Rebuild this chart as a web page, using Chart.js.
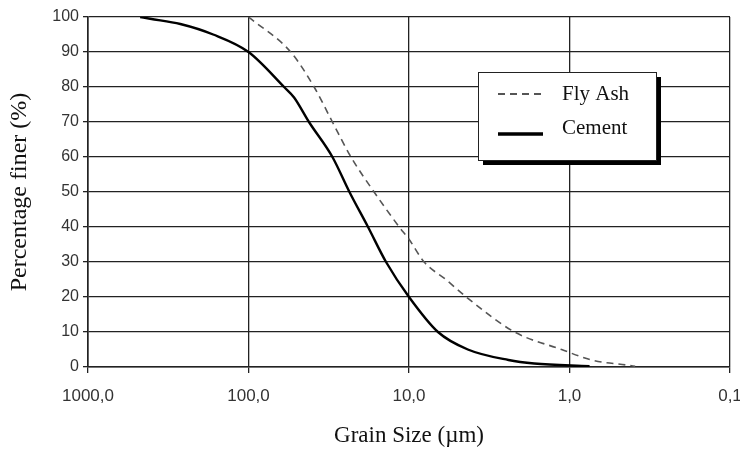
<!DOCTYPE html>
<html>
<head>
<meta charset="utf-8">
<script src="https://cdn.jsdelivr.net/npm/chart.js@4/dist/chart.umd.min.js"></script>
<style>
  html, body { margin: 0; padding: 0; background: #fff; }
  #wrap { width: 740px; height: 450px; }
</style>
</head>
<body>
<div id="wrap"><canvas id="psd"></canvas></div>
<script>
// grain size distribution
var cementSize  = [473, 410, 266, 166, 100, 60, 52, 42, 30, 23.5, 18, 13.9, 10, 6.6, 4.3, 2.4, 1.66, 0.75];
var cementFiner = [100, 99.5, 98, 95, 90, 80, 77, 70, 60, 50, 40, 30, 20, 10, 5, 2, 1, 0.2];
var flyAshSize  = [100, 54.6, 39, 30, 23, 16.5, 11.5, 10, 8.05, 5.9, 4.4, 2.2, 1.12, 0.73, 0.43, 0.39];
var flyAshFiner = [100, 90, 80, 70, 60, 50, 40, 36.5, 30, 25, 20, 10, 5, 2, 0.5, 0.2];
var xTicks = [0.1, 1, 10, 100, 1000];
var yTicks = [0, 10, 20, 30, 40, 50, 60, 70, 80, 90, 100];

function toPoints(xs, ys) {
  return xs.map(function (x, i) { return { x: x, y: ys[i] }; });
}

/** legend box drawn inside the plot, with the hard shadow from the original */
var boxLegend = {
  id: 'boxLegend',
  afterDraw: function (chart) {
    var ctx = chart.ctx;
    var x = 478, y = 72, w = 178, h = 88;
    ctx.save();
    ctx.fillStyle = '#000';
    ctx.fillRect(x + 5, y + 5, w, h);
    ctx.fillStyle = '#fff';
    ctx.fillRect(x, y, w, h);
    ctx.strokeStyle = '#222';
    ctx.lineWidth = 1;
    ctx.strokeRect(x + 0.5, y + 0.5, w, h);
    var rows = [22, 62];
    chart.data.datasets.forEach(function (ds, i) {
      var ly = y + rows[i];
      ctx.beginPath();
      ctx.strokeStyle = ds.borderColor;
      ctx.lineWidth = i === 0 ? 2 : 3.5;
      ctx.setLineDash(ds.borderDash || []);
      ctx.moveTo(x + 20, ly);
      ctx.lineTo(x + 65, ly);
      ctx.stroke();
      ctx.setLineDash([]);
      ctx.fillStyle = '#111';
      ctx.font = '21px "Liberation Serif", serif';
      ctx.textBaseline = 'middle';
      ctx.fillText(ds.label, x + 84, i === 0 ? ly : ly - 6);
    });
    ctx.restore();
  }
};

new Chart(document.getElementById('psd'), {
  type: 'scatter',
  data: {
    datasets: [{
      label: 'Fly Ash',
      data: toPoints(flyAshSize, flyAshFiner),
      showLine: true,
      borderColor: '#555',
      borderWidth: 1.6,
      borderDash: [7, 5],
      pointRadius: 0,
      cubicInterpolationMode: 'monotone'
    }, {
      label: 'Cement',
      data: toPoints(cementSize, cementFiner),
      showLine: true,
      borderColor: '#000',
      borderWidth: 2.4,
      pointRadius: 0,
      cubicInterpolationMode: 'monotone'
    }]
  },
  options: {
    responsive: true,
    maintainAspectRatio: false,
    animation: false,
    layout: { padding: { top: 17, right: 10, left: 0, bottom: 0 } },
    plugins: { legend: { display: false }, tooltip: { enabled: false } },
    scales: {
      x: {
        type: 'logarithmic',
        reverse: true,
        min: 0.1,
        max: 1000,
        afterBuildTicks: function (scale) {
          scale.ticks = xTicks.map(function (v) { return { value: v }; });
        },
        afterFit: function (scale) { scale.height = 83; },
        grid: { color: '#222', lineWidth: 1.3, tickLength: 6, drawTicks: true },
        border: { color: '#222', width: 1.6 },
        ticks: {
          color: '#333',
          font: { family: 'Arial, "Liberation Sans", sans-serif', size: 17 },
          padding: 13,
          maxRotation: 0,
          autoSkip: false,
          callback: function (v) { return Number(v).toFixed(1).replace('.', ','); }
        },
        title: {
          display: true,
          text: 'Grain Size (µm)',
          color: '#111',
          font: { family: '"Liberation Serif", serif', size: 23 },
          padding: { top: 0, bottom: 0 }
        }
      },
      y: {
        min: 0,
        max: 100,
        afterBuildTicks: function (scale) {
          scale.ticks = yTicks.map(function (v) { return { value: v }; });
        },
        afterFit: function (scale) { scale.width = 88; },
        grid: { color: '#222', lineWidth: 1.3, tickLength: 5 },
        border: { color: '#222', width: 1.6 },
        ticks: {
          color: '#333',
          font: { family: 'Arial, "Liberation Sans", sans-serif', size: 16 },
          padding: 4
        },
        title: {
          display: true,
          text: 'Percentage finer (%)',
          color: '#111',
          font: { family: '"Liberation Serif", serif', size: 24 },
          padding: { top: 5, bottom: 0 }
        }
      }
    }
  },
  plugins: [boxLegend]
});
</script>
</body>
</html>
